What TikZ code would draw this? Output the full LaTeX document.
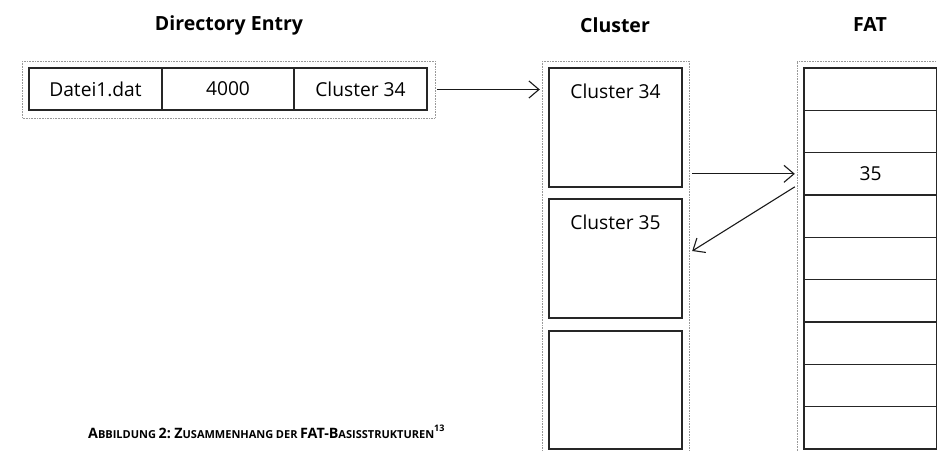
\documentclass[tikz,border=0pt]{standalone}
\usepackage{fontspec}
\setmainfont{Open Sans}
\usetikzlibrary{arrows.meta}
\newcommand\scx[2]{{\fontsize{14.3}{16}\selectfont #1}{\fontsize{11}{13}\selectfont #2}}
\begin{document}
\begin{tikzpicture}[x=1pt,y=-1pt,
  holder/.style={draw=gray!80,densely dotted,line width=0.6pt},
  cell/.style={draw=black!85,line width=1.1pt,inner sep=0pt,font=\fontsize{19.2}{22}\selectfont},
  title/.style={font=\bfseries\fontsize{19.5}{22}\selectfont},
  arr/.style={draw=black!90,line width=1.1pt,-{Straight Barb[length=10pt,width=17pt,line width=1.1pt]}}]
\useasboundingbox (0,0) rectangle (937,451);
% titles
\node[title] (tdir) at (229,25) {Directory Entry};
\node[title] (tclu) at (615,25) {Cluster};
\node[title] (tfat) at (870,25) {FAT};
% directory entry
\draw[holder] (22,61) rectangle (435,118);
\node (dir) at (228.5,89.5) [minimum width=413pt,minimum height=57pt,inner sep=0pt] {};
\node[cell,minimum width=133pt,minimum height=42pt] (d1) at (95.5,89) {Datei1.dat};
\node[cell,minimum width=132pt,minimum height=42pt] (d2) at (228,89) {4000};
\node[cell,minimum width=133pt,minimum height=42pt] (d3) at (360.5,89) {Cluster 34};
% cluster column
\draw[holder] (542,61) -- (542,451) (689,61) -- (689,451) (542,61) -- (689,61);
\node (clu) at (615.5,256) [minimum width=147pt,minimum height=390pt,inner sep=0pt] {};
\node[cell,minimum width=133pt,minimum height=119pt] (c1) at (615.5,127.5) {};
\node[cell,minimum width=133pt,minimum height=119pt] (c2) at (615.5,258.5) {};
\node[cell,minimum width=133pt,minimum height=118pt] (c3) at (615.5,390) {};
\node[font=\fontsize{19.2}{22}\selectfont] (c1t) at (615.5,91) {Cluster 34};
\node[font=\fontsize{19.2}{22}\selectfont] (c2t) at (615.5,222) {Cluster 35};
% FAT column
\draw[holder] (797,451) -- (797,61) -- (937,61);
\node (fat) at (867,256) [minimum width=140pt,minimum height=390pt,inner sep=0pt] {};
\foreach \i/\t in {1/,2/,3/35,4/,5/,6/,7/,8/,9/} {
  \node[cell,minimum width=133pt,minimum height=42.33pt] (f\i) at (870.5,{68+(\i-0.5)*42.33}) {\t};
}
% arrows
\draw[arr] ([xshift=2pt]dir.east) -- ([xshift=-2pt]clu.west |- dir.east);
\draw[arr] ([xshift=3pt]clu.east |- f3.center) -- ([xshift=-2pt]fat.west |- f3.center);
\coordinate (s3) at ([xshift=-2pt,yshift=-13pt]fat.west |- f3.center);
\coordinate (e3) at ([xshift=3pt,yshift=7.5pt]clu.east |- c2.center);
\draw[arr] (s3) -- (e3);
% caption
\node[anchor=base west,inner sep=0pt,font=\bfseries] (cap) at (88,438)
  {\scx{A}{BBILDUNG} \scx{2:}{} \scx{Z}{USAMMENHANG} \scx{}{DER} \scx{FAT-B}{ASISSTRUKTUREN}\raisebox{6.5pt}{\fontsize{9}{10}\selectfont 13}};
\end{tikzpicture}
\end{document}
